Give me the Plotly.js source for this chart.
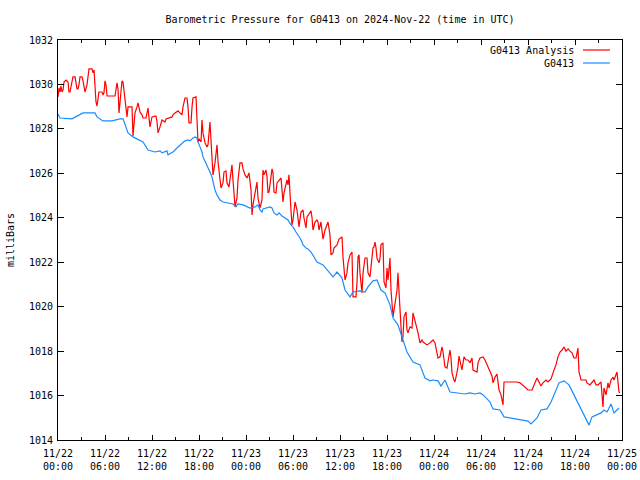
<!DOCTYPE html>
<html>
<head>
<meta charset="utf-8">
<script src="https://cdn.plot.ly/plotly-3.0.1.min.js"></script>
<style>html,body{margin:0;padding:0;background:#fff;}#chart{width:640px;height:480px;}</style>
</head>
<body>
<div id="chart"></div>
<script>
// Hours since 2024-11-22 00:00 UTC and pressure (mb)
var analysisHours = [0,0.13,0.26,0.38,0.51,0.64,0.77,1.02,1.28,1.40,1.53,1.79,1.91,2.17,2.30,2.43,2.55,2.68,2.81,3.06,3.19,3.45,3.70,3.83,3.96,4.34,4.47,4.60,4.72,4.85,4.98,5.11,5.23,5.62,5.74,5.87,6.00,6.13,6.26,7.28,7.53,7.66,7.79,7.91,8.17,8.30,8.43,8.68,8.81,8.94,9.45,9.57,9.83,10.09,10.21,10.47,10.72,10.85,11.23,11.49,11.74,12.00,12.51,12.64,12.77,13.02,13.28,13.66,13.79,14.55,14.68,14.94,15.32,15.57,15.83,15.96,16.21,16.47,16.60,16.72,16.98,17.11,17.23,17.62,17.74,17.87,18.00,18.26,18.38,18.51,18.77,19.02,19.15,19.40,19.66,19.79,20.04,20.30,20.43,20.68,20.81,21.06,21.19,21.45,21.57,21.83,21.96,22.21,22.34,22.60,22.85,22.98,23.23,23.49,23.62,23.87,24.13,24.38,24.64,24.77,24.89,25.15,25.40,25.53,25.79,26.04,26.17,26.30,26.55,26.68,26.81,26.94,27.19,27.32,27.45,27.57,27.83,27.96,28.47,28.60,28.72,28.85,29.11,29.23,29.36,29.49,29.74,29.87,30.00,30.26,30.51,30.64,30.77,31.02,31.28,31.40,31.66,31.79,32.30,32.43,32.55,32.81,33.06,33.19,33.32,33.57,33.70,33.83,34.09,34.47,34.72,34.85,35.11,35.23,35.62,35.87,36.26,36.38,36.64,36.89,37.02,37.28,37.53,37.66,38.04,38.17,38.30,38.43,38.55,38.68,38.81,38.94,39.19,39.45,39.57,39.83,39.96,40.21,40.34,40.47,40.60,40.72,40.98,41.11,41.23,41.49,41.62,41.87,42.00,42.13,42.38,42.51,42.77,43.02,43.28,43.40,43.53,43.79,43.91,44.04,44.17,44.43,44.55,44.68,44.94,45.19,45.32,45.57,45.83,45.96,46.21,46.47,46.60,47.11,47.49,47.87,48.13,48.38,48.51,48.77,49.02,49.15,49.40,49.66,49.79,50.04,50.17,50.30,50.55,50.68,50.94,51.06,51.19,51.45,51.57,51.83,52.09,52.34,52.60,52.85,52.98,53.49,53.62,53.87,54.26,54.51,54.77,54.89,55.15,55.40,55.53,55.79,56.04,56.17,56.30,56.55,56.68,56.81,56.94,57.70,58.60,58.98,59.62,60.00,60.51,60.89,61.15,61.40,61.66,61.91,62.30,62.55,62.94,63.19,63.57,63.83,64.09,64.34,64.60,64.85,65.11,65.36,65.62,65.87,66.13,66.26,66.38,66.51,66.77,67.40,67.53,67.91,68.43,68.68,68.94,69.32,69.57,69.70,69.96,70.21,70.34,70.60,70.85,70.98,71.23,71.36,71.62,71.74];
var analysisValues = [1029.44,1029.84,1029.66,1029.93,1029.66,1029.75,1030.11,1030.20,1030.11,1029.66,1029.66,1030.07,1030.34,1030.34,1030.07,1029.80,1029.80,1029.98,1030.34,1030.34,1030.16,1029.66,1029.98,1030.29,1030.70,1030.70,1030.52,1030.65,1029.62,1029.21,1029.03,1029.39,1029.66,1029.66,1029.53,1029.62,1030.16,1029.98,1029.48,1029.48,1030.07,1029.80,1028.72,1029.17,1030.16,1030.11,1029.75,1028.94,1028.54,1028.99,1028.99,1027.68,1028.72,1028.99,1029.17,1028.76,1028.63,1028.49,1028.49,1028.94,1028.09,1028.54,1028.58,1028.31,1027.82,1028.09,1028.40,1028.31,1028.45,1028.54,1028.63,1028.72,1028.81,1028.72,1028.63,1028.99,1029.39,1029.39,1028.99,1028.27,1028.27,1028.99,1029.39,1029.44,1028.09,1027.41,1027.55,1027.41,1028.40,1027.82,1027.37,1027.19,1027.28,1028.31,1026.69,1025.93,1026.47,1027.28,1026.51,1025.84,1025.34,1025.57,1026.06,1026.11,1025.57,1025.39,1025.70,1026.38,1025.70,1024.49,1024.89,1025.70,1026.47,1026.47,1026.20,1025.93,1025.79,1026.02,1025.25,1024.13,1024.58,1025.03,1025.61,1024.89,1024.44,1024.80,1026.15,1025.93,1026.15,1025.84,1025.12,1025.16,1025.84,1026.20,1026.02,1025.16,1025.12,1025.57,1025.79,1025.12,1024.71,1025.12,1025.57,1025.70,1025.48,1025.93,1024.35,1023.68,1023.90,1024.71,1024.35,1023.81,1023.59,1024.26,1024.35,1023.99,1023.54,1024.04,1024.31,1023.99,1023.45,1023.81,1023.90,1023.81,1023.45,1023.81,1023.32,1023.04,1023.45,1023.81,1023.23,1022.33,1022.42,1022.64,1022.78,1023.04,1023.14,1022.24,1021.20,1021.52,1021.97,1022.33,1022.46,1020.44,1020.44,1021.07,1022.24,1022.33,1021.52,1020.84,1020.62,1021.52,1022.19,1022.19,1021.52,1021.34,1021.79,1022.64,1022.69,1022.91,1022.64,1022.19,1021.97,1022.19,1022.78,1022.87,1021.11,1020.84,1021.74,1021.20,1022.19,1020.75,1019.54,1020.08,1020.75,1021.52,1020.53,1019.09,1018.41,1018.64,1019.54,1019.76,1018.95,1018.82,1019.09,1019.04,1019.72,1019.40,1019.04,1018.82,1018.37,1018.50,1018.41,1018.28,1018.37,1018.50,1018.37,1017.92,1017.69,1017.74,1018.19,1017.96,1017.29,1017.24,1017.51,1018.05,1017.69,1017.02,1016.70,1016.61,1017.06,1017.29,1017.78,1017.29,1017.15,1017.74,1017.60,1017.60,1017.47,1017.69,1017.15,1017.06,1017.47,1017.69,1017.74,1017.60,1017.38,1017.24,1017.06,1016.88,1016.57,1016.83,1016.97,1016.57,1016.25,1016.03,1015.71,1015.58,1016.61,1016.61,1016.61,1016.57,1016.39,1016.25,1016.25,1016.57,1016.79,1016.61,1016.43,1016.57,1016.70,1016.61,1016.75,1017.02,1017.38,1017.74,1017.96,1018.05,1018.19,1018.00,1018.10,1018.00,1017.92,1017.69,1017.69,1017.92,1018.14,1017.06,1016.70,1016.70,1016.57,1016.48,1016.70,1016.48,1016.48,1016.61,1015.49,1016.34,1016.03,1016.57,1016.34,1016.70,1016.83,1016.70,1016.92,1017.06,1016.16,1016.12];

var stationHours = [0,0.26,1.79,3.19,4.72,4.98,5.74,6.89,7.91,8.30,8.94,9.57,10.85,11.49,12.38,13.02,13.28,13.91,14.04,14.68,15.19,15.83,16.21,16.60,16.85,17.23,17.49,17.74,17.87,18.13,18.38,18.51,18.89,19.15,19.40,19.66,19.79,20.04,20.30,20.68,21.06,21.57,22.34,22.72,22.98,23.62,24.13,24.51,25.15,25.53,25.79,26.04,26.17,26.68,27.06,27.32,27.57,27.96,28.21,28.60,28.98,29.36,29.74,30.00,30.38,30.64,30.89,31.15,31.28,31.66,31.91,32.30,32.55,33.06,33.83,34.72,35.11,35.62,36.26,36.64,37.28,37.66,38.55,39.19,39.57,40.21,40.72,41.23,41.74,42.38,42.77,43.40,43.91,44.55,45.32,46.21,46.85,47.49,47.87,48.51,48.89,49.40,50.04,50.68,51.96,52.60,53.23,53.87,54.26,54.77,55.15,55.53,56.43,56.94,57.70,58.98,60.00,60.38,61.15,61.66,62.43,62.94,63.57,63.96,64.60,65.23,65.87,66.51,67.15,67.79,68.17,68.68,69.32,69.70,70.09,70.60,70.98,71.62];
var stationValues = [1028.67,1028.49,1028.45,1028.72,1028.72,1028.54,1028.36,1028.36,1028.45,1028.45,1027.82,1027.64,1027.41,1027.05,1026.96,1027.01,1026.92,1027.01,1026.83,1026.96,1027.14,1027.37,1027.46,1027.50,1027.46,1027.59,1027.64,1027.59,1027.41,1027.19,1026.96,1026.74,1026.47,1026.24,1026.06,1025.84,1025.57,1025.25,1025.03,1024.80,1024.71,1024.67,1024.62,1024.49,1024.62,1024.58,1024.49,1024.44,1024.49,1024.58,1024.35,1024.26,1024.40,1024.44,1024.49,1024.44,1024.22,1024.13,1024.22,1024.08,1023.99,1023.90,1023.68,1023.59,1023.36,1023.23,1023.09,1022.91,1022.78,1022.64,1022.60,1022.46,1022.33,1022.01,1021.88,1021.52,1021.34,1021.56,1021.29,1020.75,1020.44,1020.66,1020.71,1020.66,1020.89,1021.16,1021.20,1020.75,1020.62,1020.08,1019.49,1019.18,1018.59,1017.96,1017.51,1017.38,1016.79,1016.66,1016.70,1016.66,1016.43,1016.70,1016.16,1016.12,1016.07,1016.12,1016.07,1016.12,1016.03,1015.85,1015.71,1015.40,1015.35,1015.04,1014.99,1014.90,1014.85,1014.72,1014.99,1015.35,1015.40,1015.71,1016.25,1016.57,1016.66,1016.48,1016.03,1015.58,1015.13,1014.67,1015.04,1015.13,1015.22,1015.35,1015.26,1015.62,1015.22,1015.44];

var seriesNames = ["G0413 Analysis", "G0413"];
var tickHours = [0,6,12,18,24,30,36,42,48,54,60,66,72];
var minorTickHours = [3,9,15,21,27,33,39,45,51,57,63,69];
var tickLabels = ["11/22<br>00:00","11/22<br>06:00","11/22<br>12:00","11/22<br>18:00","11/23<br>00:00","11/23<br>06:00","11/23<br>12:00","11/23<br>18:00","11/24<br>00:00","11/24<br>06:00","11/24<br>12:00","11/24<br>18:00","11/25<br>00:00"];
var titleText = "Barometric Pressure for G0413 on 2024-Nov-22 (time in UTC)";
var yTitle = "milliBars";

var baseMs = Date.UTC(2024, 10, 22, 0, 0, 0);
function pad(n){return (n<10?'0':'')+n;}
function toStamp(h){
  var d = new Date(baseMs + Math.round(h*3600000));
  return d.getUTCFullYear()+'-'+pad(d.getUTCMonth()+1)+'-'+pad(d.getUTCDate())+' '+pad(d.getUTCHours())+':'+pad(d.getUTCMinutes())+':'+pad(d.getUTCSeconds());
}

var colors = ["#ff0000", "#1a8cff"];
var FONT = "DejaVu Sans Mono, monospace";
var FS = 10;

var traces = [
  {x: analysisHours.map(toStamp), y: analysisValues, name: seriesNames[0], type: 'scatter', mode: 'lines', line: {color: colors[0], width: 1.2}},
  {x: stationHours.map(toStamp), y: stationValues, name: seriesNames[1], type: 'scatter', mode: 'lines', line: {color: colors[1], width: 1.2}}
];

var L = 58, R = 622, T = 40, B = 440;
function px2paperX(p){return (p-L)/(R-L);}
function px2paperY(p){return (B-p)/(B-T);}

var annotations = [], shapes = [];
seriesNames.forEach(function(n, i){
  var yp = px2paperY(50 + i*13);
  annotations.push({xref:'paper', yref:'paper', x: px2paperX(576), y: yp, xanchor:'right', yanchor:'middle', text:n, showarrow:false, font:{family:FONT, size:FS, color:'#000'}});
  shapes.push({type:'line', xref:'paper', yref:'paper', x0: px2paperX(583), x1: px2paperX(610), y0: yp, y1: yp, line:{color:colors[i], width:1.2}});
});

var layout = {
  width: 640, height: 480,
  margin: {l: L, r: 640-R, t: T, b: 480-B, pad: 0},
  paper_bgcolor: '#fff', plot_bgcolor: '#fff',
  showlegend: false,
  font: {family: FONT, size: FS, color: '#000'},
  title: {text: titleText, x: 0.5, xref: 'paper', xanchor: 'center', y: 1-19/480, yanchor: 'middle', font: {family: FONT, size: FS, color: '#000'}},
  xaxis: {
    type: 'date',
    range: [toStamp(0), toStamp(72)],
    tickmode: 'array',
    tickvals: tickHours.map(toStamp),
    ticktext: tickLabels,
    ticks: 'inside', ticklen: 5, tickcolor: '#000', tickwidth: 1,
    ticklabelstandoff: 4,
    minor: {tickmode: 'array', tickvals: minorTickHours.map(toStamp), ticks: 'inside', ticklen: 3, tickcolor: '#000', showgrid: false},
    showline: true, linecolor: '#000', linewidth: 1, mirror: 'ticks',
    showgrid: false, zeroline: false,
    tickfont: {family: FONT, size: FS, color: '#000'},
    fixedrange: true
  },
  yaxis: {
    range: [1014, 1032],
    dtick: 2, tick0: 1014,
    tickformat: 'd',
    ticks: 'inside', ticklen: 6, tickcolor: '#000', tickwidth: 1,
    ticklabelstandoff: 2,
    showline: true, linecolor: '#000', linewidth: 1, mirror: 'ticks',
    showgrid: false, zeroline: false,
    tickfont: {family: FONT, size: FS, color: '#000'},
    title: {text: yTitle, standoff: 12, font: {family: FONT, size: FS, color: '#000'}},
    automargin: false,
    fixedrange: true
  },
  annotations: annotations,
  shapes: shapes
};

Plotly.newPlot('chart', traces, layout, {staticPlot: true, displayModeBar: false});
</script>
</body>
</html>
